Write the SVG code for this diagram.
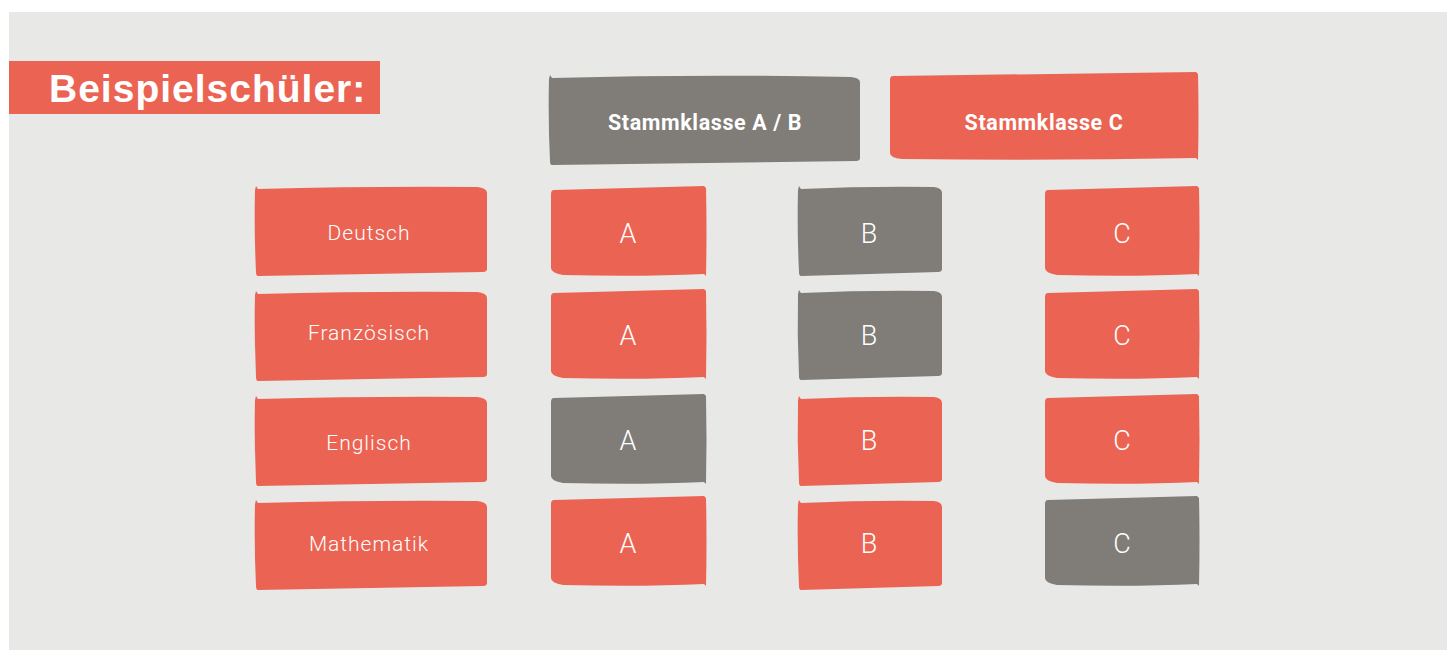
<svg xmlns="http://www.w3.org/2000/svg" xmlns:xlink="http://www.w3.org/1999/xlink" width="1452" height="650" viewBox="0 0 1452 650">
<style>
.red{fill:#EB6453}
.gray{fill:#807C78}
.lbl{font-family:Roboto,"Open Sans","Liberation Sans",sans-serif;font-weight:300;fill:#FFFFFF;text-anchor:middle}
.subj{font-size:21px;letter-spacing:1px}
.let{font-size:27px}
.hdr{font-family:Roboto,"Liberation Sans",sans-serif;font-weight:700;font-size:21.5px;fill:#FFFFFF;text-anchor:middle;letter-spacing:0.6px}
.title{font-family:"Liberation Sans",Arial,sans-serif;font-weight:700;font-size:39px;fill:#FFFFFF;letter-spacing:1px}
</style>
<defs>
<path id="subjBox" d="M1,0 L3,3 Q116,0 222,1 Q232,2 232,7 L232,83 Q232,86 228,86 L3,90 Q1,90 1,86 Q-1,45 0,4 Z"/>
<path id="boxA" d="M3,4 L153,0 L155,2 Q156,45 155,90 L153,88 Q90,91 12,89 Q0,87 0,82 L0,8 Q0,4 3,4 Z"/>
<path id="boxB" d="M1,0 L3,3 Q70,0 136,1 Q144,2 144,7 L144,83 Q144,86 140,86 L3,90 Q1,90 1,86 Q-1,45 0,4 Z"/>
<path id="boxC" d="M3,4 L152,0 L154,2 Q155,45 154,90 L152,88 Q90,91 12,89 Q0,87 0,82 L0,8 Q0,4 3,4 Z"/>
<path id="boxHAB" d="M1,0 L3,3 Q150,-1 302,2 Q311,3 311,7 L311,83 Q311,86 307,86 L3,90 Q1,90 1,86 Q-1,45 0,4 Z"/>
<path id="boxHC" d="M3,4 L306,0 L308,2 Q309,45 308,88 L306,86 Q160,89 12,87 Q0,86 0,81 L0,8 Q0,4 3,4 Z"/>
</defs>
<rect x="0" y="0" width="1452" height="650" fill="#FFFFFF"/>
<rect x="9" y="12" width="1438" height="638" fill="#E8E8E6"/>

<g id="title">
<rect x="9" y="61" width="371" height="53" class="red"/>
<text x="49" y="102" class="title">Beispielschüler:</text>
</g>

<g id="header-ab">
<use xlink:href="#boxHAB" x="549" y="75" class="gray"/>
<text x="705" y="130" class="hdr">Stammklasse A / B</text>
</g>
<g id="header-c">
<use xlink:href="#boxHC" x="890" y="72" class="red"/>
<text x="1044" y="130" class="hdr">Stammklasse C</text>
</g>

<g id="subj-deutsch"><use xlink:href="#subjBox" x="255" y="186" class="red"/><text x="369" y="240" class="lbl subj">Deutsch</text></g>
<g id="subj-franz"><use xlink:href="#subjBox" x="255" y="291" class="red"/><text x="369" y="340" class="lbl subj">Französisch</text></g>
<g id="subj-englisch"><use xlink:href="#subjBox" x="255" y="396" class="red"/><text x="369" y="450" class="lbl subj">Englisch</text></g>
<g id="subj-mathe"><use xlink:href="#subjBox" x="255" y="500" class="red"/><text x="369" y="551" class="lbl subj">Mathematik</text></g>

<g id="a1"><use xlink:href="#boxA" x="551" y="186" class="red"/><text x="628" y="243" class="lbl let">A</text></g>
<g id="a2"><use xlink:href="#boxA" x="551" y="289" class="red"/><text x="628" y="345" class="lbl let">A</text></g>
<g id="a3"><use xlink:href="#boxA" x="551" y="394" class="gray"/><text x="628" y="450" class="lbl let">A</text></g>
<g id="a4"><use xlink:href="#boxA" x="551" y="496" class="red"/><text x="628" y="553" class="lbl let">A</text></g>

<g id="b1"><use xlink:href="#boxB" x="798" y="186" class="gray"/><text x="869" y="243" class="lbl let">B</text></g>
<g id="b2"><use xlink:href="#boxB" x="798" y="290" class="gray"/><text x="869" y="345" class="lbl let">B</text></g>
<g id="b3"><use xlink:href="#boxB" x="798" y="396" class="red"/><text x="869" y="450" class="lbl let">B</text></g>
<g id="b4"><use xlink:href="#boxB" x="798" y="500" class="red"/><text x="869" y="553" class="lbl let">B</text></g>

<g id="c1"><use xlink:href="#boxC" x="1045" y="186" class="red"/><text x="1122" y="243" class="lbl let">C</text></g>
<g id="c2"><use xlink:href="#boxC" x="1045" y="289" class="red"/><text x="1122" y="345" class="lbl let">C</text></g>
<g id="c3"><use xlink:href="#boxC" x="1045" y="394" class="red"/><text x="1122" y="450" class="lbl let">C</text></g>
<g id="c4"><use xlink:href="#boxC" x="1045" y="496" class="gray"/><text x="1122" y="553" class="lbl let">C</text></g>

<g id="connectors"></g>
</svg>
